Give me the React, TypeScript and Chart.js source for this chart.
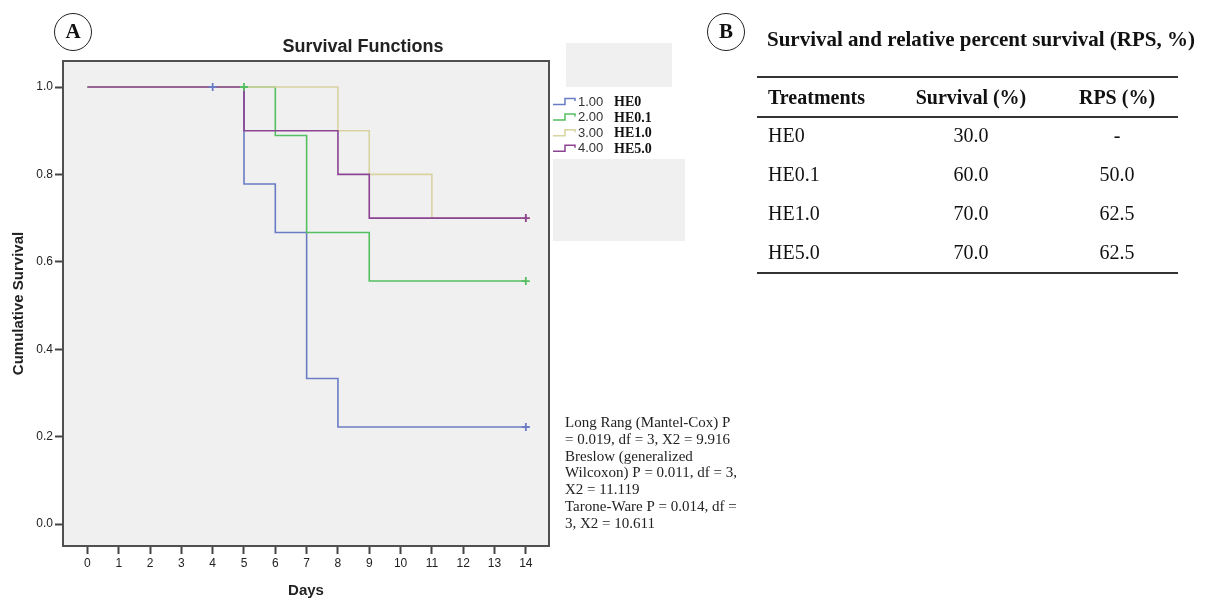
import React, { useEffect, useRef } from 'react';
import { Chart, registerables } from 'chart.js';

Chart.register(...registerables);

// ---------- data ----------
const groupCodes = ['1.00', '2.00', '3.00', '4.00'];
const groupNames = ['HE0', 'HE0.1', 'HE1.0', 'HE5.0'];
const groupColors = ['#6a7cc4', '#55bf62', '#d8d3a0', '#8c4392'];
const groupOrder = [3, 2, 1, 0];

const he0Days = [0, 5, 6, 7, 8, 14];
const he0Surv = [1.0, 0.778, 0.667, 0.333, 0.222, 0.222];
const he01Days = [0, 6, 7, 9, 14];
const he01Surv = [1.0, 0.889, 0.667, 0.556, 0.556];
const he10Days = [0, 8, 9, 11, 14];
const he10Surv = [1.0, 0.9, 0.8, 0.7, 0.7];
const he50Days = [0, 5, 8, 9, 14];
const he50Surv = [1.0, 0.9, 0.8, 0.7, 0.7];

const he0CensorDays = [4, 14];
const he0CensorSurv = [1.0, 0.222];
const he01CensorDays = [5, 14];
const he01CensorSurv = [1.0, 0.556];
const he10CensorDays = [14];
const he10CensorSurv = [0.7];
const he50CensorDays = [14];
const he50CensorSurv = [0.7];

const stepDaysList = [he0Days, he01Days, he10Days, he50Days];
const stepSurvList = [he0Surv, he01Surv, he10Surv, he50Surv];
const censorDaysList = [he0CensorDays, he01CensorDays, he10CensorDays, he50CensorDays];
const censorSurvList = [he0CensorSurv, he01CensorSurv, he10CensorSurv, he50CensorSurv];

const chartTitle = 'Survival Functions';
const xTitle = 'Days';
const yTitle = 'Cumulative Survival';
const xMin = -0.78;
const xMax = 14.74;
const yMin = -0.0503;
const yMax = 1.0595;

const statsLines = [
  'Long Rang (Mantel-Cox) P',
  '= 0.019, df = 3, X2 = 9.916',
  'Breslow (generalized',
  'Wilcoxon) P = 0.011, df = 3,',
  'X2 = 11.119',
  'Tarone-Ware P = 0.014, df =',
  '3, X2 = 10.611',
];

const tableTitle = 'Survival and relative percent survival (RPS, %)';
const tableHeaders = ['Treatments', 'Survival (%)', 'RPS (%)'];
const treatments = ['HE0', 'HE0.1', 'HE1.0', 'HE5.0'];
const survivalPct = ['30.0', '60.0', '70.0', '70.0'];
const rpsPct = ['-', '50.0', '62.5', '62.5'];

// ---------- styles ----------
const SANS = "'Liberation Sans', Arial, sans-serif";
const SERIF = "'Liberation Serif', 'Times New Roman', serif";

const decorPlugin = {
  id: 'decor',
  beforeDraw(chart: any) {
    const { ctx, chartArea } = chart;
    ctx.save();
    ctx.fillStyle = '#f0f0f0';
    ctx.fillRect(566, 43, 106, 44);
    ctx.fillRect(553, 159, 132, 82);
    ctx.fillRect(chartArea.left, chartArea.top, chartArea.right - chartArea.left, chartArea.bottom - chartArea.top);
    ctx.restore();
  },
  afterDraw(chart: any) {
    const { ctx, chartArea } = chart;
    ctx.save();
    // plot frame
    ctx.strokeStyle = '#505050';
    ctx.lineWidth = 2;
    ctx.strokeRect(chartArea.left, chartArea.top, chartArea.right - chartArea.left, chartArea.bottom - chartArea.top);

    // title
    ctx.fillStyle = '#222';
    ctx.font = `bold 18px ${SANS}`;
    ctx.textAlign = 'center';
    ctx.textBaseline = 'middle';
    ctx.fillText(chartTitle, 363, 47);

    // legend
    ctx.textAlign = 'left';
    for (let i = 0; i < groupCodes.length; i++) {
      const y = 102 + i * 15.6;
      ctx.strokeStyle = groupColors[i];
      ctx.lineWidth = 1.5;
      ctx.beginPath();
      ctx.moveTo(553, y + 2.5);
      ctx.lineTo(565, y + 2.5);
      ctx.lineTo(565, y - 3.5);
      ctx.lineTo(575, y - 3.5);
      ctx.lineTo(575, y - 1);
      ctx.stroke();
      ctx.fillStyle = '#333';
      ctx.font = `13px ${SANS}`;
      ctx.fillText(groupCodes[i], 578, y);
      ctx.fillStyle = '#111';
      ctx.font = `bold 14px ${SERIF}`;
      ctx.fillText(groupNames[i], 614, y + 0.5);
    }

    // statistics text
    ctx.fillStyle = '#222';
    ctx.font = `15px ${SERIF}`;
    for (let i = 0; i < statsLines.length; i++) {
      ctx.fillText(statsLines[i], 565, 423 + i * 16.8);
    }
    ctx.restore();
  },
};

export default function App() {
  const canvasRef = useRef<HTMLCanvasElement | null>(null);

  useEffect(() => {
    if (!canvasRef.current) return;
    const datasets: any[] = [];
    for (let i = 0; i < groupNames.length; i++) {
      datasets.push({
        label: groupNames[i],
        data: stepDaysList[i].map((d, k) => ({ x: d, y: stepSurvList[i][k] })),
        borderColor: groupColors[i],
        borderWidth: 1.6,
        stepped: true,
        pointRadius: 0,
        fill: false,
        order: groupOrder[i],
      });
    }
    for (let i = 0; i < groupNames.length; i++) {
      datasets.push({
        label: groupNames[i] + ' censored',
        data: censorDaysList[i].map((d, k) => ({ x: d, y: censorSurvList[i][k] })),
        borderColor: groupColors[i],
        backgroundColor: groupColors[i],
        showLine: false,
        pointStyle: 'cross',
        pointRadius: 4,
        pointBorderWidth: 1.8,
        order: groupOrder[i] - 10,
      });
    }

    const chart = new Chart(canvasRef.current, {
      type: 'line',
      data: { datasets },
      options: {
        responsive: false,
        animation: false,
        devicePixelRatio: 1,
        layout: { padding: { left: 0, right: 667, top: 61, bottom: 0 } },
        plugins: {
          legend: { display: false },
          tooltip: { enabled: false },
          title: { display: false },
        },
        scales: {
          x: {
            type: 'linear',
            min: xMin,
            max: xMax,
            afterFit: (s: any) => {
              s.height = 52;
            },
            ticks: {
              stepSize: 1,
              includeBounds: false,
              autoSkip: false,
              maxRotation: 0,
              padding: 2,
              color: '#222',
              font: { family: SANS, size: 12 },
            },
            grid: {
              display: true,
              drawOnChartArea: false,
              drawTicks: true,
              tickLength: 8,
              tickWidth: 2,
              tickColor: '#444',
            },
            border: { display: false },
            title: {
              display: true,
              text: xTitle,
              color: '#222',
              font: { family: SANS, size: 15, weight: 'bold' },
              padding: { top: 0, bottom: -2 },
            },
          },
          y: {
            type: 'linear',
            min: yMin,
            max: yMax,
            afterFit: (s: any) => {
              s.width = 63;
            },
            ticks: {
              stepSize: 0.2,
              includeBounds: false,
              padding: 2,
              color: '#222',
              font: { family: SANS, size: 12 },
              callback: (v: any) => Number(v).toFixed(1),
            },
            grid: {
              display: true,
              drawOnChartArea: false,
              drawTicks: true,
              tickLength: 8,
              tickWidth: 2,
              tickColor: '#444',
            },
            border: { display: false },
            title: {
              display: true,
              text: yTitle,
              color: '#222',
              font: { family: SANS, size: 15, weight: 'bold' },
              padding: { top: 10, bottom: 0 },
            },
          },
        },
      },
      plugins: [decorPlugin],
    } as any);
    return () => chart.destroy();
  }, []);

  const circle = (left: number, label: string) => (
    <div
      style={{
        position: 'absolute',
        left,
        top: 13,
        width: 38,
        height: 38,
        boxSizing: 'border-box',
        border: '1.4px solid #222',
        borderRadius: '50%',
        textAlign: 'center',
        lineHeight: '35px',
        fontFamily: SERIF,
        fontWeight: 'bold',
        fontSize: 21,
        color: '#111',
      }}
    >
      {label}
    </div>
  );

  const rowCenters = [135, 174, 213, 252];
  const cell = (text: string, center: number, top: number, bold: boolean, align: 'left' | 'center', key: string) => (
    <div
      key={key}
      style={{
        position: 'absolute',
        left: align === 'left' ? center : center - 70,
        width: align === 'left' ? 160 : 140,
        top: top - 13,
        height: 26,
        lineHeight: '26px',
        textAlign: align,
        fontFamily: SERIF,
        fontSize: 20,
        fontWeight: bold ? 'bold' : 'normal',
        color: '#111',
        whiteSpace: 'nowrap',
      }}
    >
      {text}
    </div>
  );
  const rule = (top: number, key: string) => (
    <div key={key} style={{ position: 'absolute', left: 757, width: 421, top, height: 2, background: '#333' }} />
  );

  return (
    <div style={{ position: 'fixed', left: 0, top: 0, width: 1216, height: 598, background: '#fff', overflow: 'hidden' }}>
      <canvas ref={canvasRef} width={1216} height={598} style={{ position: 'absolute', left: 0, top: 0, display: 'block' }} />
      {circle(54, 'A')}
      {circle(707, 'B')}
      <div
        style={{
          position: 'absolute',
          left: 767,
          top: 25,
          height: 28,
          lineHeight: '28px',
          fontFamily: SERIF,
          fontWeight: 'bold',
          fontSize: 21,
          color: '#111',
          whiteSpace: 'nowrap',
        }}
      >
        {tableTitle}
      </div>
      {rule(76, 'r1')}
      {rule(116, 'r2')}
      {rule(272, 'r3')}
      {cell(tableHeaders[0], 768, 97, true, 'left', 'h0')}
      {cell(tableHeaders[1], 971, 97, true, 'center', 'h1')}
      {cell(tableHeaders[2], 1117, 97, true, 'center', 'h2')}
      {treatments.map((t, i) => (
        <React.Fragment key={t}>
          {cell(t, 768, rowCenters[i], false, 'left', 't' + i)}
          {cell(survivalPct[i], 971, rowCenters[i], false, 'center', 's' + i)}
          {cell(rpsPct[i], 1117, rowCenters[i], false, 'center', 'p' + i)}
        </React.Fragment>
      ))}
    </div>
  );
}
